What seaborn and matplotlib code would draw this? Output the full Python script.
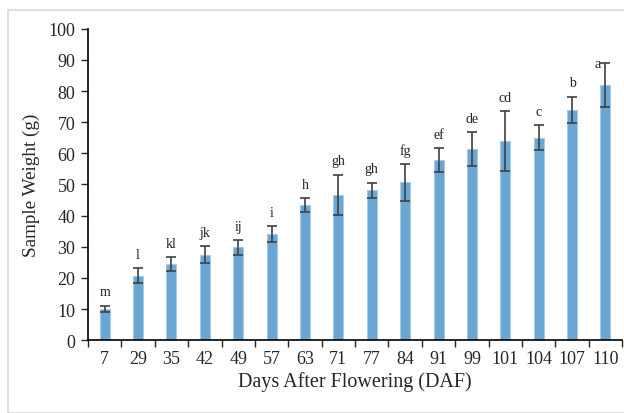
import numpy as np
import pandas as pd
import matplotlib
matplotlib.use("Agg")
import matplotlib.pyplot as plt
from matplotlib.patches import Rectangle
import seaborn as sns

# Datos
dias = ["7", "29", "35", "42", "49", "57", "63", "71", "77", "84", "91", "99", "101", "104", "107", "110"]
peso = [10.0, 20.7, 24.4, 27.5, 29.8, 34.1, 43.3, 46.7, 48.2, 50.7, 57.9, 61.4, 63.9, 65.0, 74.0, 82.0]
error = [1.1, 2.4, 2.3, 2.7, 2.4, 2.6, 2.2, 6.5, 2.4, 6.0, 3.8, 5.4, 9.6, 4.0, 4.2, 7.1]
letras = ["m", "l", "kl", "jk", "ij", "i", "h", "gh", "gh", "fg", "ef", "de", "cd", "c", "b", "a"]

df = pd.DataFrame({"DAF": dias, "peso": peso, "error": error, "letra": letras})

sns.set_style("white")
plt.rcParams["font.family"] = ["Liberation Serif", "DejaVu Serif"]

fig = plt.figure(figsize=(6.24, 4.14), dpi=100)
ax = fig.add_axes([0.141, 0.176, 0.856, 0.752])

# borde gris claro del grafico
fig.patches.append(Rectangle((8 / 624, 0), 1, 1 - 11 / 414, transform=fig.transFigure,
                             fill=False, edgecolor="#d9d9d9", linewidth=1.2))

sns.barplot(data=df, x="DAF", y="peso", color="#6aa6d4", width=0.3,
            edgecolor="#a9cbe8", linewidth=0.8, errorbar=None, ax=ax, saturation=1)

x = np.arange(len(dias))
ax.errorbar(x, df["peso"], yerr=df["error"], fmt="none", ecolor="#404040",
            elinewidth=1.2, capsize=3.5, capthick=1.2)

# letras de significancia (la mas alta va al lado de la barra de error)
ultimo = len(dias) - 1
for xi, v, e, t in zip(x, df["peso"], df["error"], df["letra"]):
    if xi == ultimo:
        ax.text(xi - 0.22, v + e - 0.3, t, ha="center", va="center", fontsize=10, color="#222222")
    else:
        ax.text(xi, v + e + 4.4, t, ha="center", va="center", fontsize=10, color="#222222")

ax.set_ylim(0, 100)
ax.set_xlim(-0.5, len(dias) - 0.5)
ax.set_yticks(np.arange(0, 101, 10))
ax.tick_params(axis="y", direction="out", length=5, width=1, left=True, labelsize=13, pad=4)
ax.tick_params(axis="x", which="major", length=0, labelsize=13, pad=7)
ax.set_xticks(np.arange(-0.5, len(dias), 1), minor=True)
ax.tick_params(axis="x", which="minor", direction="out", length=5, width=1, bottom=True)

for s in ["top", "right"]:
    ax.spines[s].set_visible(False)
ax.spines["left"].set_linewidth(1.2)
ax.spines["bottom"].set_linewidth(1.2)
ax.spines["left"].set_color("black")
ax.spines["bottom"].set_color("black")

ax.set_xlabel("Days After Flowering (DAF)", fontsize=14.5, labelpad=3)
ax.set_ylabel("Sample Weight (g)", fontsize=13.8, labelpad=6)

fig.savefig("out.png", dpi=100)
